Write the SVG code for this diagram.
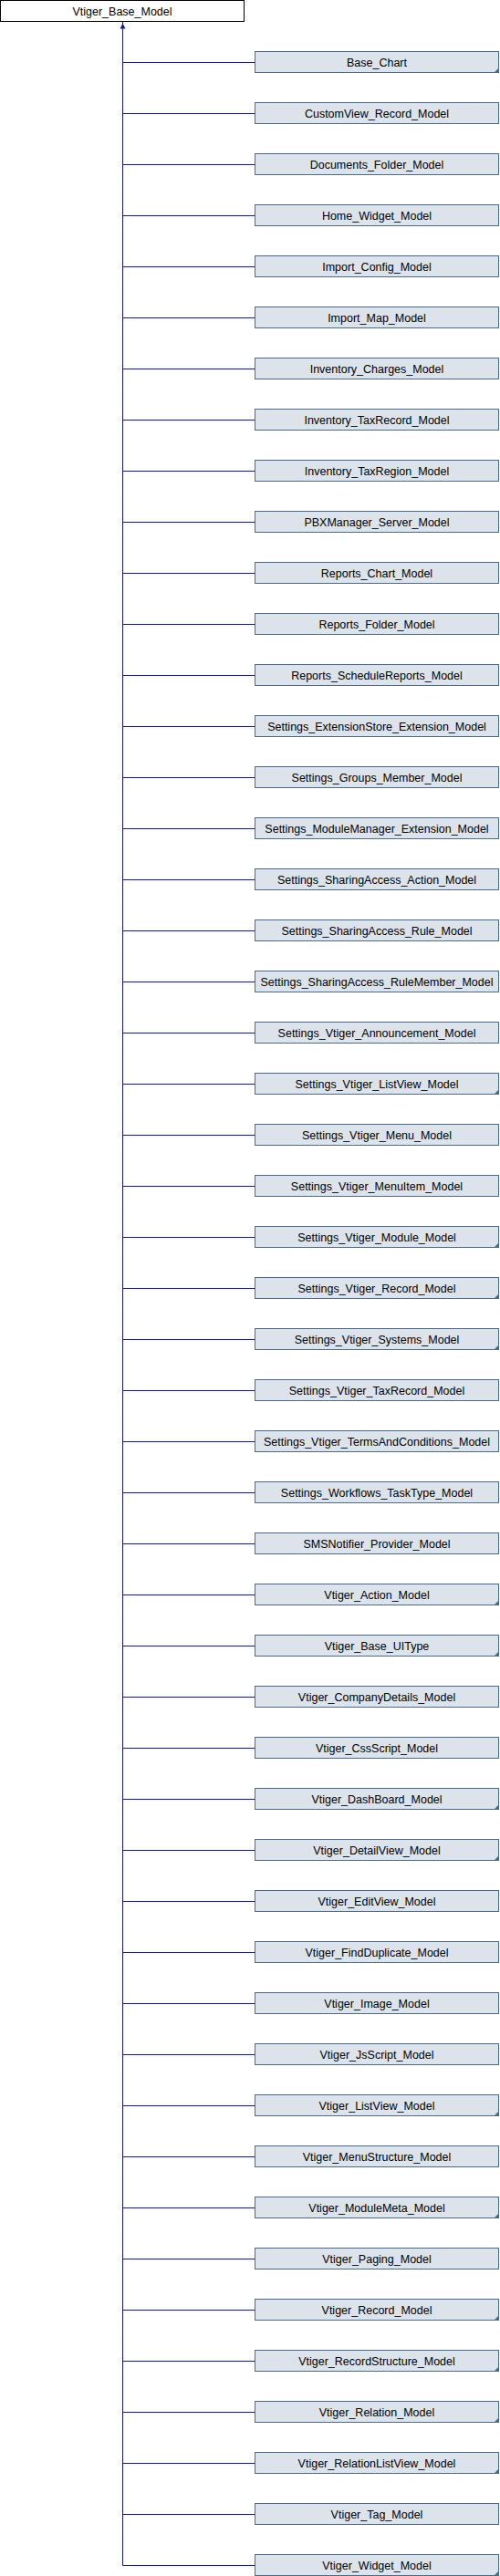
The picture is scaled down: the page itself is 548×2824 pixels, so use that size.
<svg xmlns="http://www.w3.org/2000/svg" width="548" height="2824" viewBox="0 0 548 2824">
<style>
.top{fill:#ffffff;stroke:#000000;stroke-width:1}
.box{fill:#dce3eb;stroke:#4a6c8c;stroke-width:1}
.more{fill:#4a6c8c;stroke:none}
.t{font-family:"Liberation Sans",Arial,sans-serif;font-size:12.5px;fill:#000000;text-anchor:middle}
.edge{stroke:#1a1a8e;stroke-width:1;fill:none}
.arrow{fill:#1a1a8e;stroke:none}
</style>
<rect width="548" height="2824" fill="#ffffff"/>
<g id="connectors">
<path class="edge" d="M134.5,24V2812.5"/>
<polygon class="arrow" points="134.5,25.5 131.5,31.5 137.5,31.5"/>
<path class="edge" d="M134.5,68.5H279M134.5,124.5H279M134.5,180.5H279M134.5,236.5H279M134.5,292.5H279M134.5,348.5H279M134.5,404.5H279M134.5,460.5H279M134.5,516.5H279M134.5,572.5H279M134.5,628.5H279M134.5,684.5H279M134.5,740.5H279M134.5,796.5H279M134.5,852.5H279M134.5,908.5H279M134.5,964.5H279M134.5,1020.5H279M134.5,1076.5H279M134.5,1132.5H279M134.5,1188.5H279M134.5,1244.5H279M134.5,1300.5H279M134.5,1356.5H279M134.5,1412.5H279M134.5,1468.5H279M134.5,1524.5H279M134.5,1580.5H279M134.5,1636.5H279M134.5,1692.5H279M134.5,1748.5H279M134.5,1804.5H279M134.5,1860.5H279M134.5,1916.5H279M134.5,1972.5H279M134.5,2028.5H279M134.5,2084.5H279M134.5,2140.5H279M134.5,2196.5H279M134.5,2252.5H279M134.5,2308.5H279M134.5,2364.5H279M134.5,2420.5H279M134.5,2476.5H279M134.5,2532.5H279M134.5,2588.5H279M134.5,2644.5H279M134.5,2700.5H279M134.5,2756.5H279M134.5,2812.5H279"/>
</g>
<g id="Vtiger_Base_Model"><rect class="top" x="0.5" y="0.5" width="267" height="23"/><text class="t" x="134" y="16.5">Vtiger_Base_Model</text></g>
<g id="n1" transform="translate(0,56)"><rect class="box" x="279.5" y="0.5" width="267" height="23"/><polygon class="more" points="541,24 547,24 547,18"/><text class="t" x="413" y="16.5">Base_Chart</text></g>
<g id="n2" transform="translate(0,112)"><rect class="box" x="279.5" y="0.5" width="267" height="23"/><text class="t" x="413" y="16.5">CustomView_Record_Model</text></g>
<g id="n3" transform="translate(0,168)"><rect class="box" x="279.5" y="0.5" width="267" height="23"/><text class="t" x="413" y="16.5">Documents_Folder_Model</text></g>
<g id="n4" transform="translate(0,224)"><rect class="box" x="279.5" y="0.5" width="267" height="23"/><text class="t" x="413" y="16.5">Home_Widget_Model</text></g>
<g id="n5" transform="translate(0,280)"><rect class="box" x="279.5" y="0.5" width="267" height="23"/><text class="t" x="413" y="16.5">Import_Config_Model</text></g>
<g id="n6" transform="translate(0,336)"><rect class="box" x="279.5" y="0.5" width="267" height="23"/><text class="t" x="413" y="16.5">Import_Map_Model</text></g>
<g id="n7" transform="translate(0,392)"><rect class="box" x="279.5" y="0.5" width="267" height="23"/><text class="t" x="413" y="16.5">Inventory_Charges_Model</text></g>
<g id="n8" transform="translate(0,448)"><rect class="box" x="279.5" y="0.5" width="267" height="23"/><text class="t" x="413" y="16.5">Inventory_TaxRecord_Model</text></g>
<g id="n9" transform="translate(0,504)"><rect class="box" x="279.5" y="0.5" width="267" height="23"/><text class="t" x="413" y="16.5">Inventory_TaxRegion_Model</text></g>
<g id="n10" transform="translate(0,560)"><rect class="box" x="279.5" y="0.5" width="267" height="23"/><text class="t" x="413" y="16.5">PBXManager_Server_Model</text></g>
<g id="n11" transform="translate(0,616)"><rect class="box" x="279.5" y="0.5" width="267" height="23"/><text class="t" x="413" y="16.5">Reports_Chart_Model</text></g>
<g id="n12" transform="translate(0,672)"><rect class="box" x="279.5" y="0.5" width="267" height="23"/><text class="t" x="413" y="16.5">Reports_Folder_Model</text></g>
<g id="n13" transform="translate(0,728)"><rect class="box" x="279.5" y="0.5" width="267" height="23"/><text class="t" x="413" y="16.5">Reports_ScheduleReports_Model</text></g>
<g id="n14" transform="translate(0,784)"><rect class="box" x="279.5" y="0.5" width="267" height="23"/><text class="t" x="413" y="16.5">Settings_ExtensionStore_Extension_Model</text></g>
<g id="n15" transform="translate(0,840)"><rect class="box" x="279.5" y="0.5" width="267" height="23"/><text class="t" x="413" y="16.5">Settings_Groups_Member_Model</text></g>
<g id="n16" transform="translate(0,896)"><rect class="box" x="279.5" y="0.5" width="267" height="23"/><text class="t" x="413" y="16.5">Settings_ModuleManager_Extension_Model</text></g>
<g id="n17" transform="translate(0,952)"><rect class="box" x="279.5" y="0.5" width="267" height="23"/><text class="t" x="413" y="16.5">Settings_SharingAccess_Action_Model</text></g>
<g id="n18" transform="translate(0,1008)"><rect class="box" x="279.5" y="0.5" width="267" height="23"/><text class="t" x="413" y="16.5">Settings_SharingAccess_Rule_Model</text></g>
<g id="n19" transform="translate(0,1064)"><rect class="box" x="279.5" y="0.5" width="267" height="23"/><text class="t" x="413" y="16.5">Settings_SharingAccess_RuleMember_Model</text></g>
<g id="n20" transform="translate(0,1120)"><rect class="box" x="279.5" y="0.5" width="267" height="23"/><text class="t" x="413" y="16.5">Settings_Vtiger_Announcement_Model</text></g>
<g id="n21" transform="translate(0,1176)"><rect class="box" x="279.5" y="0.5" width="267" height="23"/><polygon class="more" points="541,24 547,24 547,18"/><text class="t" x="413" y="16.5">Settings_Vtiger_ListView_Model</text></g>
<g id="n22" transform="translate(0,1232)"><rect class="box" x="279.5" y="0.5" width="267" height="23"/><text class="t" x="413" y="16.5">Settings_Vtiger_Menu_Model</text></g>
<g id="n23" transform="translate(0,1288)"><rect class="box" x="279.5" y="0.5" width="267" height="23"/><text class="t" x="413" y="16.5">Settings_Vtiger_MenuItem_Model</text></g>
<g id="n24" transform="translate(0,1344)"><rect class="box" x="279.5" y="0.5" width="267" height="23"/><polygon class="more" points="541,24 547,24 547,18"/><text class="t" x="413" y="16.5">Settings_Vtiger_Module_Model</text></g>
<g id="n25" transform="translate(0,1400)"><rect class="box" x="279.5" y="0.5" width="267" height="23"/><polygon class="more" points="541,24 547,24 547,18"/><text class="t" x="413" y="16.5">Settings_Vtiger_Record_Model</text></g>
<g id="n26" transform="translate(0,1456)"><rect class="box" x="279.5" y="0.5" width="267" height="23"/><polygon class="more" points="541,24 547,24 547,18"/><text class="t" x="413" y="16.5">Settings_Vtiger_Systems_Model</text></g>
<g id="n27" transform="translate(0,1512)"><rect class="box" x="279.5" y="0.5" width="267" height="23"/><text class="t" x="413" y="16.5">Settings_Vtiger_TaxRecord_Model</text></g>
<g id="n28" transform="translate(0,1568)"><rect class="box" x="279.5" y="0.5" width="267" height="23"/><text class="t" x="413" y="16.5">Settings_Vtiger_TermsAndConditions_Model</text></g>
<g id="n29" transform="translate(0,1624)"><rect class="box" x="279.5" y="0.5" width="267" height="23"/><text class="t" x="413" y="16.5">Settings_Workflows_TaskType_Model</text></g>
<g id="n30" transform="translate(0,1680)"><rect class="box" x="279.5" y="0.5" width="267" height="23"/><text class="t" x="413" y="16.5">SMSNotifier_Provider_Model</text></g>
<g id="n31" transform="translate(0,1736)"><rect class="box" x="279.5" y="0.5" width="267" height="23"/><polygon class="more" points="541,24 547,24 547,18"/><text class="t" x="413" y="16.5">Vtiger_Action_Model</text></g>
<g id="n32" transform="translate(0,1792)"><rect class="box" x="279.5" y="0.5" width="267" height="23"/><polygon class="more" points="541,24 547,24 547,18"/><text class="t" x="413" y="16.5">Vtiger_Base_UIType</text></g>
<g id="n33" transform="translate(0,1848)"><rect class="box" x="279.5" y="0.5" width="267" height="23"/><text class="t" x="413" y="16.5">Vtiger_CompanyDetails_Model</text></g>
<g id="n34" transform="translate(0,1904)"><rect class="box" x="279.5" y="0.5" width="267" height="23"/><text class="t" x="413" y="16.5">Vtiger_CssScript_Model</text></g>
<g id="n35" transform="translate(0,1960)"><rect class="box" x="279.5" y="0.5" width="267" height="23"/><polygon class="more" points="541,24 547,24 547,18"/><text class="t" x="413" y="16.5">Vtiger_DashBoard_Model</text></g>
<g id="n36" transform="translate(0,2016)"><rect class="box" x="279.5" y="0.5" width="267" height="23"/><polygon class="more" points="541,24 547,24 547,18"/><text class="t" x="413" y="16.5">Vtiger_DetailView_Model</text></g>
<g id="n37" transform="translate(0,2072)"><rect class="box" x="279.5" y="0.5" width="267" height="23"/><text class="t" x="413" y="16.5">Vtiger_EditView_Model</text></g>
<g id="n38" transform="translate(0,2128)"><rect class="box" x="279.5" y="0.5" width="267" height="23"/><text class="t" x="413" y="16.5">Vtiger_FindDuplicate_Model</text></g>
<g id="n39" transform="translate(0,2184)"><rect class="box" x="279.5" y="0.5" width="267" height="23"/><text class="t" x="413" y="16.5">Vtiger_Image_Model</text></g>
<g id="n40" transform="translate(0,2240)"><rect class="box" x="279.5" y="0.5" width="267" height="23"/><text class="t" x="413" y="16.5">Vtiger_JsScript_Model</text></g>
<g id="n41" transform="translate(0,2296)"><rect class="box" x="279.5" y="0.5" width="267" height="23"/><polygon class="more" points="541,24 547,24 547,18"/><text class="t" x="413" y="16.5">Vtiger_ListView_Model</text></g>
<g id="n42" transform="translate(0,2352)"><rect class="box" x="279.5" y="0.5" width="267" height="23"/><text class="t" x="413" y="16.5">Vtiger_MenuStructure_Model</text></g>
<g id="n43" transform="translate(0,2408)"><rect class="box" x="279.5" y="0.5" width="267" height="23"/><polygon class="more" points="541,24 547,24 547,18"/><text class="t" x="413" y="16.5">Vtiger_ModuleMeta_Model</text></g>
<g id="n44" transform="translate(0,2464)"><rect class="box" x="279.5" y="0.5" width="267" height="23"/><text class="t" x="413" y="16.5">Vtiger_Paging_Model</text></g>
<g id="n45" transform="translate(0,2520)"><rect class="box" x="279.5" y="0.5" width="267" height="23"/><polygon class="more" points="541,24 547,24 547,18"/><text class="t" x="413" y="16.5">Vtiger_Record_Model</text></g>
<g id="n46" transform="translate(0,2576)"><rect class="box" x="279.5" y="0.5" width="267" height="23"/><polygon class="more" points="541,24 547,24 547,18"/><text class="t" x="413" y="16.5">Vtiger_RecordStructure_Model</text></g>
<g id="n47" transform="translate(0,2632)"><rect class="box" x="279.5" y="0.5" width="267" height="23"/><polygon class="more" points="541,24 547,24 547,18"/><text class="t" x="413" y="16.5">Vtiger_Relation_Model</text></g>
<g id="n48" transform="translate(0,2688)"><rect class="box" x="279.5" y="0.5" width="267" height="23"/><polygon class="more" points="541,24 547,24 547,18"/><text class="t" x="413" y="16.5">Vtiger_RelationListView_Model</text></g>
<g id="n49" transform="translate(0,2744)"><rect class="box" x="279.5" y="0.5" width="267" height="23"/><text class="t" x="413" y="16.5">Vtiger_Tag_Model</text></g>
<g id="n50" transform="translate(0,2800)"><rect class="box" x="279.5" y="0.5" width="267" height="23"/><polygon class="more" points="541,24 547,24 547,18"/><text class="t" x="413" y="16.5">Vtiger_Widget_Model</text></g>
</svg>
